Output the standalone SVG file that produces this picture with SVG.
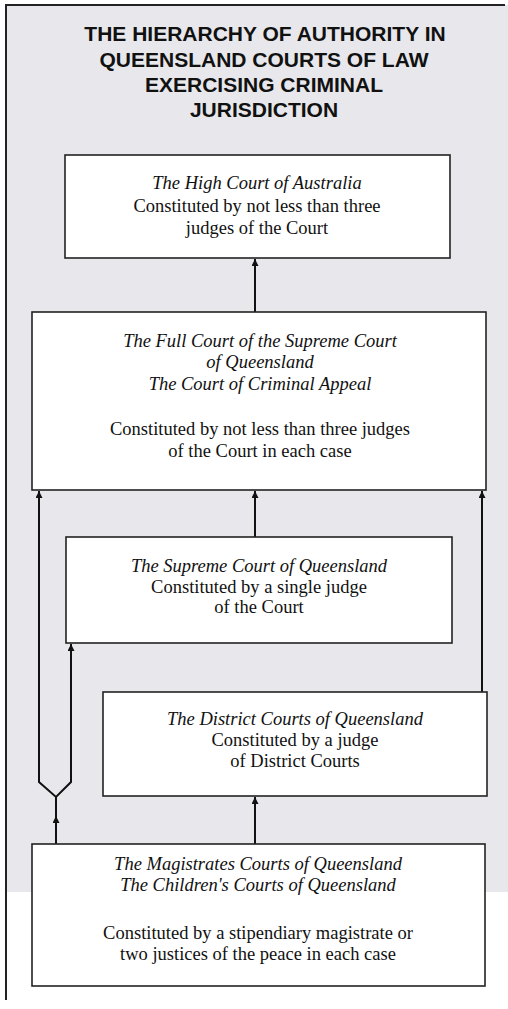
<svg xmlns="http://www.w3.org/2000/svg" width="508" height="1009" viewBox="0 0 508 1009">
<defs>
<marker id="arr" viewBox="0 0 10 10" refX="10" refY="5" markerWidth="8" markerHeight="7" markerUnits="userSpaceOnUse" orient="auto">
<path d="M0,0 L10,5 L0,10 z" fill="#111"/>
</marker>
<style>
.box{fill:#ffffff;stroke:#222;stroke-width:1.6}
.ln{fill:none;stroke:#111;stroke-width:2}
.title{font-family:"Liberation Sans",Arial,sans-serif;font-weight:bold;font-size:21px;fill:#111;text-anchor:middle}
.it{font-family:"Liberation Serif","Times New Roman",serif;font-style:italic;font-size:18.5px;fill:#111;text-anchor:middle}
.rm{font-family:"Liberation Serif","Times New Roman",serif;font-size:18.5px;fill:#111;text-anchor:middle}
</style>
</defs>
<rect x="0" y="0" width="508" height="1009" fill="#ffffff"/>
<rect x="6" y="5" width="502" height="887" fill="#e8e8ec"/>
<line x1="5" y1="5" x2="505" y2="5" stroke="#222" stroke-width="2"/>
<line x1="6" y1="4" x2="6" y2="1000" stroke="#222" stroke-width="2"/>

<g id="title">
<text class="title" x="265" y="41">THE HIERARCHY OF AUTHORITY IN</text>
<text class="title" x="264" y="67">QUEENSLAND COURTS OF LAW</text>
<text class="title" x="264" y="92">EXERCISING CRIMINAL</text>
<text class="title" x="264" y="117">JURISDICTION</text>
</g>

<g id="connectors">
<line class="ln" x1="255" y1="312" x2="255" y2="259" marker-end="url(#arr)"/>
<line class="ln" x1="255" y1="537" x2="255" y2="491" marker-end="url(#arr)"/>
<line class="ln" x1="482" y1="692" x2="482" y2="491" marker-end="url(#arr)"/>
<line class="ln" x1="255" y1="844" x2="255" y2="797" marker-end="url(#arr)"/>
<polyline class="ln" points="39,491 39,782 56,797 71,782 71,644"/>
<line class="ln" x1="39" y1="500" x2="39" y2="491" marker-end="url(#arr)"/>
<line class="ln" x1="71" y1="653" x2="71" y2="644" marker-end="url(#arr)"/>
<line class="ln" x1="56" y1="844" x2="56" y2="797"/>
<line class="ln" x1="56" y1="826" x2="56" y2="816" marker-end="url(#arr)"/>
</g>

<g id="high-court">
<rect class="box" x="65" y="155" width="385" height="103"/>
<text class="it" x="257" y="189">The High Court of Australia</text>
<text class="rm" x="257" y="212">Constituted by not less than three</text>
<text class="rm" x="257" y="234">judges of the Court</text>
</g>

<g id="full-court">
<rect class="box" x="32" y="312" width="454" height="178"/>
<text class="it" x="260" y="347">The Full Court of the Supreme Court</text>
<text class="it" x="260" y="368">of Queensland</text>
<text class="it" x="260" y="390">The Court of Criminal Appeal</text>
<text class="rm" x="260" y="435">Constituted by not less than three judges</text>
<text class="rm" x="260" y="457">of the Court in each case</text>
</g>

<g id="supreme-court">
<rect class="box" x="66" y="537" width="386" height="106"/>
<text class="it" x="259" y="572">The Supreme Court of Queensland</text>
<text class="rm" x="259" y="593">Constituted by a single judge</text>
<text class="rm" x="259" y="613">of the Court</text>
</g>

<g id="district-courts">
<rect class="box" x="103" y="692" width="384" height="104"/>
<text class="it" x="295" y="725">The District Courts of Queensland</text>
<text class="rm" x="295" y="746">Constituted by a judge</text>
<text class="rm" x="295" y="767">of District Courts</text>
</g>

<g id="magistrates-courts">
<rect class="box" x="32" y="844" width="453" height="142"/>
<text class="it" x="258" y="870">The Magistrates Courts of Queensland</text>
<text class="it" x="258" y="891">The Children's Courts of Queensland</text>
<text class="rm" x="258" y="939">Constituted by a stipendiary magistrate or</text>
<text class="rm" x="258" y="960">two justices of the peace in each case</text>
</g>
</svg>
